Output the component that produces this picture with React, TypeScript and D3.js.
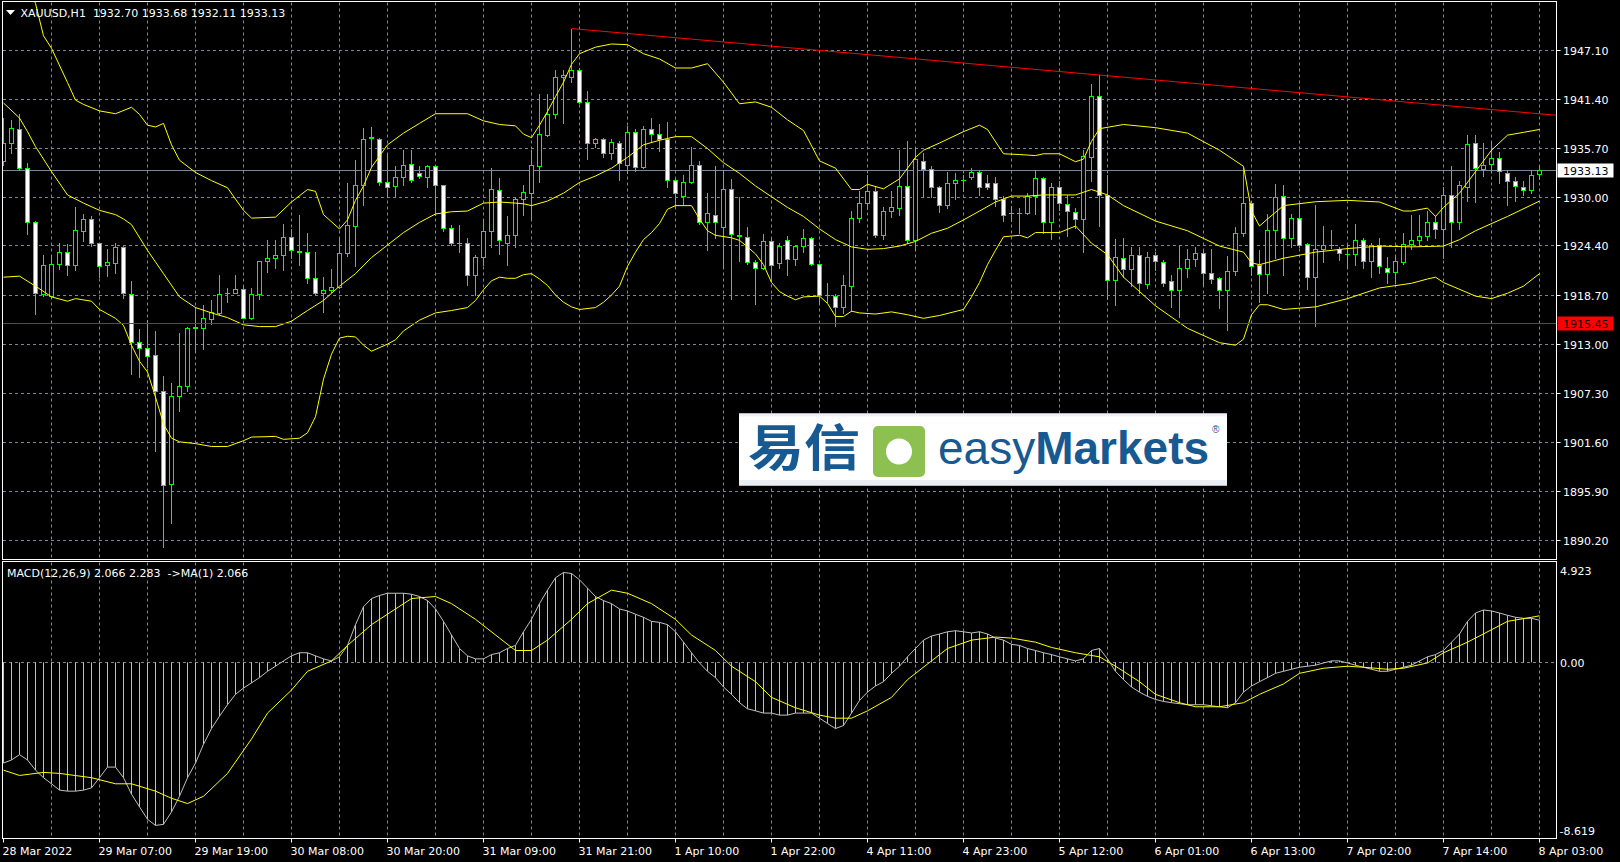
import React from 'react';
import * as d3 from 'd3';

// ---------- DATA ----------
const barOpen = [1934.25,1936.30,1937.96,1933.38,1927.08,1918.76,1918.52,1922.26,1923.63,1922.17,1926.11,1927.48,1924.66,1922.09,1922.38,1924.24,1918.76,1913.24,1912.53,1911.66,1907.51,1896.71,1906.89,1908.05,1914.83,1914.86,1915.86,1916.57,1918.85,1918.93,1919.39,1916.02,1918.76,1922.58,1923.00,1923.34,1925.41,1923.71,1923.63,1920.59,1918.85,1919.18,1919.60,1923.50,1926.66,1931.40,1936.95,1936.80,1931.72,1931.31,1932.30,1933.88,1932.77,1932.35,1933.67,1931.40,1926.40,1924.66,1924.66,1920.92,1923.08,1926.11,1930.90,1924.74,1925.58,1929.74,1930.48,1933.59,1937.21,1939.62,1943.94,1943.98,1944.81,1941.07,1936.30,1936.80,1935.13,1936.30,1933.72,1937.62,1933.56,1937.87,1937.33,1936.71,1932.06,1930.14,1931.72,1933.80,1927.08,1927.98,1926.53,1930.98,1925.57,1925.41,1922.50,1921.76,1924.87,1922.38,1924.99,1922.79,1924.33,1925.29,1922.26,1918.64,1918.52,1917.27,1919.68,1927.58,1929.32,1930.69,1925.58,1928.40,1928.74,1931.31,1924.99,1934.22,1933.30,1931.22,1929.14,1931.64,1932.06,1932.35,1932.88,1931.61,1931.61,1929.85,1928.16,1928.19,1928.16,1930.14,1932.22,1927.16,1931.22,1929.24,1928.32,1927.48,1934.72,1941.78,1930.27,1920.43,1923.00,1921.67,1923.34,1919.89,1923.34,1922.50,1920.30,1919.26,1921.84,1922.79,1923.50,1921.26,1920.59,1919.18,1921.42,1925.82,1929.32,1922.09,1921.13,1926.24,1930.14,1925.29,1927.58,1924.58,1920.72,1924.04,1924.40,1923.95,1923.42,1923.42,1924.99,1922.58,1924.45,1921.84,1921.34,1922.50,1924.58,1924.99,1925.50,1927.16,1926.32,1930.27,1927.16,1931.22,1936.30,1933.30,1933.88,1934.51,1932.85,1931.85,1931.22,1930.90,1932.70];
const barHigh = [1939.21,1938.99,1939.70,1934.01,1927.20,1923.34,1923.34,1924.66,1924.53,1928.90,1928.06,1927.77,1924.74,1924.04,1924.74,1924.30,1920.30,1914.69,1915.73,1914.48,1909.29,1908.47,1914.28,1914.95,1917.27,1917.52,1918.02,1921.01,1919.47,1920.92,1919.55,1919.47,1922.61,1925.08,1924.99,1926.95,1926.32,1927.98,1925.90,1923.63,1920.72,1921.68,1925.29,1931.64,1934.30,1938.04,1938.17,1936.92,1935.13,1933.59,1935.54,1935.54,1933.59,1933.72,1933.80,1931.45,1926.74,1926.82,1925.29,1923.34,1927.48,1933.38,1932.22,1927.77,1930.06,1931.40,1935.54,1942.03,1942.03,1944.81,1944.81,1949.59,1945.01,1942.32,1936.92,1936.92,1936.71,1936.50,1938.29,1937.87,1938.29,1939.20,1938.45,1938.79,1932.10,1932.56,1935.88,1934.22,1930.48,1933.59,1933.17,1932.14,1929.98,1926.53,1922.66,1925.71,1925.16,1924.66,1925.50,1924.45,1926.32,1925.35,1922.30,1920.01,1918.76,1920.92,1928.40,1930.69,1932.56,1931.31,1928.82,1930.69,1935.54,1936.50,1935.88,1935.13,1933.59,1931.30,1932.98,1932.77,1932.64,1933.38,1933.17,1932.64,1932.35,1930.14,1929.03,1928.74,1930.48,1933.17,1932.36,1931.64,1931.93,1930.27,1928.74,1935.46,1943.15,1944.19,1932.56,1925.16,1925.29,1924.24,1924.24,1923.63,1923.63,1922.66,1921.01,1924.45,1924.04,1924.24,1923.84,1924.04,1920.72,1923.21,1926.53,1933.38,1929.56,1923.84,1928.11,1931.51,1931.40,1928.06,1929.24,1924.66,1929.14,1926.66,1926.24,1924.24,1924.45,1926.95,1925.29,1924.66,1925.29,1923.08,1923.34,1925.82,1927.98,1927.98,1928.40,1927.77,1931.22,1933.59,1931.93,1937.21,1937.21,1936.30,1936.38,1935.25,1933.06,1932.35,1931.93,1933.17,1933.68];
const barLow = [1933.75,1935.13,1933.17,1925.71,1916.45,1918.52,1918.35,1921.68,1920.92,1921.55,1924.87,1924.33,1920.72,1920.84,1921.26,1918.35,1909.50,1909.08,1910.34,1900.57,1889.44,1892.18,1905.15,1907.55,1912.00,1912.41,1915.32,1916.36,1917.81,1918.85,1915.94,1915.86,1918.23,1921.34,1921.76,1921.55,1922.92,1922.17,1920.10,1918.76,1916.69,1919.05,1919.47,1923.21,1921.97,1929.14,1933.47,1931.40,1930.06,1930.14,1931.40,1931.72,1932.27,1931.22,1927.98,1926.11,1924.45,1923.63,1919.76,1918.64,1922.17,1924.24,1923.42,1922.17,1924.24,1927.98,1927.48,1931.72,1937.12,1939.20,1938.58,1943.44,1941.00,1934.43,1935.88,1934.64,1934.43,1932.06,1932.77,1933.06,1933.38,1936.38,1935.38,1931.22,1928.82,1929.24,1931.64,1926.95,1923.92,1925.29,1921.76,1918.23,1922.58,1922.26,1917.60,1921.68,1920.30,1921.76,1921.01,1922.09,1923.63,1922.09,1917.68,1917.81,1915.03,1916.57,1916.85,1927.08,1928.61,1925.41,1925.16,1927.66,1927.90,1924.66,1923.92,1929.98,1930.06,1928.32,1928.74,1929.85,1930.69,1932.14,1930.27,1930.98,1929.03,1927.24,1927.24,1925.90,1928.06,1928.06,1925.90,1925.16,1928.48,1925.50,1926.40,1923.63,1931.93,1926.66,1918.23,1917.52,1920.72,1919.68,1918.85,1919.47,1921.55,1919.68,1917.27,1916.15,1920.72,1921.97,1919.68,1920.10,1917.19,1914.61,1921.01,1925.50,1921.01,1917.81,1918.93,1923.00,1921.01,1924.24,1924.24,1919.34,1915.03,1922.50,1924.16,1922.66,1921.76,1922.17,1921.84,1920.72,1921.26,1920.10,1920.10,1922.26,1924.04,1924.33,1924.99,1925.29,1923.00,1924.24,1926.32,1929.56,1929.45,1932.47,1932.88,1931.64,1929.14,1929.56,1930.27,1930.48,1932.11];
const barClose = [1936.27,1938.08,1933.38,1927.08,1918.85,1922.17,1922.29,1923.63,1922.17,1926.24,1927.48,1924.74,1921.97,1922.46,1924.24,1918.93,1913.24,1912.53,1911.53,1907.51,1896.54,1906.92,1908.05,1914.86,1914.89,1915.94,1916.69,1918.76,1918.88,1919.39,1916.02,1918.76,1922.58,1923.00,1923.34,1925.41,1923.84,1923.59,1920.59,1918.93,1919.18,1919.60,1923.50,1926.74,1931.40,1936.80,1936.83,1931.72,1931.22,1932.30,1933.80,1932.06,1932.43,1933.67,1931.40,1926.40,1924.66,1924.64,1920.92,1923.08,1926.11,1930.98,1924.99,1925.58,1929.74,1930.56,1933.72,1937.33,1939.62,1943.98,1944.19,1944.81,1941.07,1936.30,1936.71,1935.13,1936.38,1933.97,1937.62,1933.56,1937.87,1937.33,1936.71,1932.06,1930.48,1931.80,1933.80,1927.08,1928.19,1927.08,1930.98,1925.71,1925.50,1922.50,1921.76,1924.87,1922.09,1924.33,1922.79,1924.33,1925.29,1922.26,1918.64,1918.60,1917.27,1919.76,1927.58,1929.32,1930.69,1925.58,1928.40,1928.82,1931.31,1924.99,1934.43,1933.30,1931.22,1929.14,1931.64,1932.06,1932.03,1932.88,1931.22,1931.22,1929.85,1927.98,1928.12,1928.23,1930.14,1932.22,1927.16,1931.22,1929.32,1928.40,1927.48,1934.84,1941.78,1930.27,1920.43,1923.08,1921.68,1923.34,1920.01,1923.08,1922.58,1920.10,1919.26,1921.84,1922.79,1923.50,1921.26,1920.51,1919.18,1921.42,1925.82,1929.32,1921.97,1921.13,1926.24,1929.98,1925.29,1927.58,1924.45,1920.72,1924.04,1924.45,1924.45,1923.50,1923.45,1924.99,1922.58,1924.45,1921.97,1921.34,1922.58,1924.58,1924.99,1925.50,1927.16,1926.32,1930.27,1927.16,1931.40,1936.21,1933.38,1933.80,1934.51,1933.06,1931.93,1931.31,1930.82,1932.64,1933.13];

// Bollinger bands (bar index, price)
const bbUpperBars = [0,2,4,5,6,8,9,10,12,14,16,17,18,19,20,21,22,24,26,28,30,31,34,36,38,39,40,42,43,44,45,46,48,50,52,54,58,60,62,64,65,66,67,68,69,70,71,72,74,76,78,80,82,84,86,88,90,91,92,94,96,98,99,100,102,104,106,107,108,110,112,113,114,115,117,120,122,123,125,127,129,130,132,134,135,136,137,140,144,148,152,155,156,157,158,160,164,168,172,175,176,178,179,180,182,184,186,188,190,192];
const bbUpperVals = [1961.2,1957.5,1952.5,1948.75,1947.30,1943.32,1941.28,1940.78,1940.03,1939.70,1940.45,1939.62,1938.37,1938.16,1938.58,1936.09,1934.30,1932.88,1931.93,1931.10,1928.48,1927.58,1927.69,1929.45,1930.90,1930.69,1927.98,1926.32,1927.37,1929.64,1931.31,1933.47,1936.09,1937.45,1938.58,1939.70,1939.70,1938.87,1938.45,1938.29,1937.33,1936.92,1938.37,1939.95,1941.69,1943.35,1945.43,1946.67,1947.43,1947.80,1947.72,1946.67,1946.06,1945.01,1945.01,1945.51,1943.35,1942.11,1940.86,1941.07,1940.45,1938.99,1938.37,1937.75,1934.22,1933.38,1930.90,1930.90,1931.51,1930.98,1932.14,1933.38,1934.64,1935.46,1936.30,1937.62,1938.37,1937.87,1935.05,1934.96,1934.84,1935.05,1935.05,1934.13,1934.43,1936.50,1937.96,1938.45,1938.08,1937.45,1935.46,1933.59,1928.40,1926.66,1927.48,1929.03,1929.48,1929.64,1929.45,1928.40,1928.40,1928.74,1927.77,1928.82,1930.48,1932.98,1935.46,1937.21,1937.54,1937.87];
const bbMiddleBars = [0,2,3,4,6,8,10,12,14,15,16,18,20,22,24,26,28,30,32,34,36,38,40,42,44,46,48,50,52,54,56,58,60,62,64,65,66,68,70,72,74,76,78,80,82,84,86,88,90,92,94,96,98,100,102,104,106,108,110,112,114,116,118,120,122,124,126,128,130,132,134,136,138,140,144,148,152,155,156,157,160,164,168,172,176,180,182,184,188,192];
const bbMiddleVals = [1940.95,1939.20,1937.62,1935.88,1932.98,1930.27,1929.32,1928.48,1927.98,1927.48,1926.82,1923.84,1921.13,1918.43,1917.19,1916.57,1916.02,1915.19,1914.98,1914.98,1915.61,1916.85,1918.02,1919.68,1921.13,1923.00,1924.45,1925.90,1927.08,1928.06,1928.32,1928.40,1929.32,1929.45,1929.32,1929.24,1929.03,1929.56,1930.48,1931.72,1932.47,1933.38,1934.64,1936.09,1936.62,1937.04,1937.04,1935.66,1934.01,1932.77,1931.31,1930.06,1928.82,1927.77,1926.32,1925.08,1924.24,1923.95,1924.04,1924.33,1924.87,1925.82,1926.40,1927.37,1928.40,1929.45,1930.14,1930.14,1930.27,1930.27,1930.27,1930.90,1930.27,1929.03,1927.24,1926.11,1924.33,1923.63,1922.38,1922.17,1922.92,1923.63,1924.04,1924.33,1924.24,1924.33,1925.08,1926.11,1927.77,1929.56];
const bbLowerBars = [0,2,4,6,8,9,11,12,14,15,16,17,18,19,20,21,22,24,26,28,30,31,34,35,37,38,39,40,41,42,43,44,45,46,48,49,50,52,54,56,58,59,60,61,62,63,64,65,66,67,68,69,70,71,72,74,75,76,77,78,79,80,81,82,83,84,86,87,88,89,91,92,93,94,95,96,97,98,99,100,102,103,104,105,106,107,109,111,113,115,117,120,121,122,123,124,125,127,128,129,130,132,134,136,138,140,144,148,152,154,155,156,157,158,160,164,168,172,176,178,179,180,184,186,188,190,192];
const bbLowerVals = [1920.72,1920.84,1919.68,1918.43,1917.93,1918.23,1917.93,1916.97,1915.94,1915.11,1912.82,1910.95,1909.71,1906.80,1903.68,1902.02,1901.60,1901.39,1901.06,1901.06,1901.73,1902.15,1902.23,1901.89,1902.02,1902.65,1904.52,1908.88,1911.78,1913.65,1913.86,1913.78,1912.82,1912.12,1912.95,1913.45,1914.48,1915.73,1916.57,1916.85,1917.19,1918.02,1919.26,1920.30,1920.72,1920.59,1920.59,1921.01,1921.13,1920.51,1919.76,1918.64,1917.81,1917.27,1916.97,1917.19,1917.81,1918.64,1919.68,1921.97,1923.63,1925.08,1925.90,1926.95,1928.61,1929.03,1929.03,1927.48,1926.11,1925.58,1925.29,1924.99,1924.24,1923.42,1922.17,1920.10,1919.05,1918.52,1918.10,1918.43,1918.52,1917.68,1916.15,1916.15,1916.77,1916.57,1916.44,1916.69,1916.36,1915.94,1916.27,1916.97,1918.43,1920.10,1922.17,1923.84,1925.41,1925.58,1925.29,1925.90,1925.90,1925.90,1926.66,1924.66,1923.34,1920.72,1917.39,1914.78,1913.11,1912.82,1913.53,1916.36,1917.52,1917.52,1916.97,1917.27,1918.23,1919.47,1920.01,1920.51,1920.72,1920.10,1918.52,1918.23,1918.85,1919.68,1921.13];

// MACD main (one value per bar) and signal line
const macdMain = [-4.94,-4.79,-4.53,-4.79,-5.29,-5.66,-5.96,-6.27,-6.32,-6.32,-6.27,-6.16,-5.66,-5.14,-5.14,-5.66,-6.47,-7.09,-7.70,-8.00,-7.95,-7.34,-6.57,-5.66,-4.94,-4.02,-3.25,-2.64,-2.08,-1.57,-1.26,-1.01,-0.75,-0.44,-0.19,0.07,0.32,0.47,0.47,0.32,0.17,0.07,0.27,0.83,1.85,2.73,3.13,3.28,3.39,3.39,3.39,3.34,3.23,3.03,2.62,2.01,1.34,0.68,0.32,0.17,0.17,0.38,0.47,0.68,0.83,1.50,2.11,2.88,3.54,4.15,4.41,4.36,4.05,3.64,3.23,3.03,2.88,2.62,2.52,2.36,2.21,2.01,1.96,1.85,1.50,0.99,0.47,-0.03,-0.44,-0.75,-1.21,-1.57,-1.98,-2.28,-2.38,-2.49,-2.49,-2.59,-2.59,-2.49,-2.49,-2.49,-2.74,-3.00,-3.25,-3.10,-2.49,-1.87,-1.46,-1.16,-0.95,-0.54,-0.19,0.27,0.68,1.09,1.29,1.39,1.50,1.55,1.50,1.44,1.50,1.39,1.19,1.09,0.88,0.83,0.68,0.58,0.47,0.38,0.27,0.17,0.07,0.17,0.58,0.68,0.17,-0.44,-0.85,-1.21,-1.46,-1.67,-1.82,-1.92,-1.98,-2.03,-2.08,-2.08,-2.08,-2.13,-2.18,-2.23,-1.98,-1.46,-1.16,-0.95,-0.75,-0.54,-0.44,-0.34,-0.24,-0.19,-0.14,-0.03,0.07,0.07,-0.03,-0.14,-0.24,-0.34,-0.44,-0.44,-0.34,-0.24,-0.14,0.07,0.27,0.38,0.58,0.99,1.39,2.01,2.42,2.57,2.52,2.42,2.31,2.21,2.16,2.16,2.066];
const macdSignalBars = [0,2,5,7,11,14,16,19,21,23,25,28,31,33,36,38,41,43,46,49,51,54,56,59,62,64,66,68,71,73,76,78,81,84,86,89,91,94,96,99,102,104,106,108,111,113,116,118,121,124,126,129,131,134,137,139,142,144,147,149,152,155,157,160,162,165,168,170,173,175,178,180,183,186,188,191,192];
const macdSignalVals = [-5.29,-5.55,-5.40,-5.45,-5.66,-5.96,-5.96,-6.32,-6.67,-6.93,-6.57,-5.45,-3.76,-2.49,-1.36,-0.44,0.07,0.83,1.85,2.62,3.13,3.23,2.88,2.11,1.19,0.58,0.58,1.09,2.11,2.88,3.54,3.39,2.88,2.11,1.34,0.58,-0.19,-0.95,-1.72,-2.23,-2.59,-2.74,-2.74,-2.38,-1.72,-0.85,0.07,0.68,1.09,1.24,1.19,0.99,0.73,0.47,0.27,-0.19,-0.95,-1.57,-1.98,-2.18,-2.18,-1.98,-1.57,-1.06,-0.54,-0.29,-0.19,-0.24,-0.34,-0.29,-0.03,0.47,0.99,1.60,2.01,2.21,2.283];

const priceTicks = [1947.10,1941.40,1935.70,1930.00,1924.40,1918.70,1913.00,1907.30,1901.60,1895.90,1890.20];
const macdTicks = [4.923, 0.00, -8.619];
const macdTickLabels = ['4.923', '0.00', '-8.619'];
const timeLabelBars = [0,12,24,36,48,60,72,84,96,108,120,132,144,156,168,180,192];
const timeLabels = ['28 Mar 2022','29 Mar 07:00','29 Mar 19:00','30 Mar 08:00','30 Mar 20:00','31 Mar 09:00','31 Mar 21:00','1 Apr 10:00','1 Apr 22:00','4 Apr 11:00','4 Apr 23:00','5 Apr 12:00','6 Apr 01:00','6 Apr 13:00','7 Apr 02:00','7 Apr 14:00','8 Apr 03:00'];
const supportLevel = 1915.45;
const lastPrice = 1933.13;
const trendBars = [71, 137];
const trendPrices = [1949.59, 1944.19];

// ---------- LAYOUT ----------
const W = 1620, H = 862;
const PL = 2.5, PR = 1556.5, MT = 1.5, MB = 559.5, ST = 561.5, SB = 838.5;
const FONT = '"DejaVu Sans", Verdana, sans-serif';
const GRID = '#778899';

export default function App() {
  const x = d3.scaleLinear().domain([0, 192]).range([3.5, 1539.5]);
  const y = d3.scaleLinear().domain([1890.2, 1947.1]).range([540, 50]);
  const ym = d3.scaleLinear().domain([-8.619, 4.923]).range([838, 562]);
  const px = (v: number) => Math.round(v) + 0.5;

  const lineOf = (bars: number[], vals: number[], sy: any) =>
    d3.line<number>().x((_, k) => x(bars[k])).y((v) => sy(v))(vals) || '';

  const gridBars = d3.range(6, 193, 6);

  // trendline extended to right edge
  const slope = (trendPrices[1] - trendPrices[0]) / (trendBars[1] - trendBars[0]);
  const endBar = x.invert(PR);
  const endPrice = trendPrices[0] + slope * (endBar - trendBars[0]);

  const candles = barOpen.map((o, i) => {
    const c = barClose[i];
    const h = Math.max(barHigh[i], o, c);
    const l = Math.min(barLow[i], o, c);
    const cx = x(i);
    const top = Math.round(y(Math.max(o, c)));
    const bot = Math.round(y(Math.min(o, c)));
    const bull = c >= o;
    return (
      <g key={i}>
        <line x1={cx} x2={cx} y1={Math.round(y(h))} y2={Math.round(y(l)) + 1} stroke="#00ff00" strokeWidth={1} />
        {bot - top >= 1 ? (
          <rect x={cx - 2} y={top + 0.5} width={4} height={bot - top} fill={bull ? '#000' : '#fff'} stroke="#00ff00" strokeWidth={1} />
        ) : (
          <line x1={cx - 2.5} x2={cx + 2.5} y1={top + 0.5} y2={top + 0.5} stroke="#00ff00" strokeWidth={1} />
        )}
      </g>
    );
  });

  const macdTopLine = d3.line<number>().x((_, i) => x(i)).y((v) => ym(v))(macdMain) || '';

  return (
    <svg width={W} height={H} style={{ position: 'absolute', left: 0, top: 0, display: 'block' }} fontFamily={FONT}>
      <defs>
        <clipPath id="mainClip"><rect x={3} y={2} width={PR - 3} height={MB - 2} /></clipPath>
        <clipPath id="macdClip"><rect x={3} y={ST + 0.5} width={PR - 3} height={SB - ST - 1} /></clipPath>
      </defs>
      <rect x={0} y={0} width={W} height={H} fill="#000" />

      {/* grid */}
      <g stroke={GRID} strokeWidth={1} strokeDasharray="3,3" fill="none">
        {gridBars.map((b) => (
          <g key={'v' + b}>
            <line x1={x(b)} x2={x(b)} y1={MT + 1} y2={MB - 1} />
            <line x1={x(b)} x2={x(b)} y1={ST + 1} y2={SB - 1} />
          </g>
        ))}
        {priceTicks.map((t) => (
          <line key={'h' + t} x1={3} x2={PR} y1={px(y(t))} y2={px(y(t))} />
        ))}
        <line x1={3} x2={PR} y1={px(ym(0))} y2={px(ym(0))} />
      </g>

      {/* main chart */}
      <g clipPath="url(#mainClip)">
        <line x1={3} x2={PR} y1={px(y(lastPrice))} y2={px(y(lastPrice))} stroke={GRID} strokeWidth={1} />
        {candles}
        <g fill="none" stroke="#ffff00" strokeWidth={1}>
          <path d={lineOf(bbUpperBars, bbUpperVals, y)} />
          <path d={lineOf(bbMiddleBars, bbMiddleVals, y)} />
          <path d={lineOf(bbLowerBars, bbLowerVals, y)} />
        </g>
        <line x1={3} x2={PR} y1={px(y(supportLevel))} y2={px(y(supportLevel))} stroke="#ff0000" strokeWidth={1} />
        <line x1={x(trendBars[0])} y1={y(trendPrices[0])} x2={PR} y2={y(endPrice)} stroke="#ff0000" strokeWidth={1} />
      </g>

      {/* MACD */}
      <g clipPath="url(#macdClip)">
        <g stroke="#c0c0c0" strokeWidth={1}>
          {macdMain.map((v, i) => (
            <line key={i} x1={x(i)} x2={x(i)} y1={ym(0)} y2={ym(v)} />
          ))}
        </g>
        <path d={macdTopLine} fill="none" stroke="#c0c0c0" strokeWidth={1} />
        <path d={lineOf(macdSignalBars, macdSignalVals, ym)} fill="none" stroke="#ffff00" strokeWidth={1} />
      </g>

      {/* frames */}
      <g fill="none" stroke="#fff" strokeWidth={1}>
        <rect x={PL} y={MT} width={PR - PL} height={MB - MT} />
        <rect x={PL} y={ST} width={PR - PL} height={SB - ST} />
      </g>

      {/* price axis */}
      <g fill="#fff" fontSize={11}>
        {priceTicks.map((t) => (
          <g key={'pt' + t}>
            <line x1={PR} x2={PR + 4} y1={px(y(t))} y2={px(y(t))} stroke="#fff" />
            <text x={1563} y={px(y(t)) + 4}>{t.toFixed(2)}</text>
          </g>
        ))}
        {macdTicks.map((t, k) => (
          <text key={'mt' + k} x={k === 2 ? 1559.5 : 1560} y={k === 0 ? 575 : k === 1 ? 666.5 : 835}>{macdTickLabels[k]}</text>
        ))}
      </g>

      {/* price tags */}
      <rect x={1557.5} y={px(y(lastPrice)) - 7} width={56} height={14} fill="#fff" />
      <text x={1563} y={px(y(lastPrice)) + 4} fontSize={11} fill="#000">{lastPrice.toFixed(2)}</text>
      <rect x={1557.5} y={px(y(supportLevel)) - 7} width={56} height={14} fill="#ff0000" />
      <text x={1563} y={px(y(supportLevel)) + 4} fontSize={11} fill="#000">{supportLevel.toFixed(2)}</text>

      {/* time axis */}
      <g fill="#fff" fontSize={11}>
        {timeLabelBars.map((b, k) => (
          <g key={'tl' + b}>
            <line x1={x(b)} x2={x(b)} y1={SB} y2={SB + 4} stroke="#fff" />
            <text x={x(b) - 1} y={854.5}>{timeLabels[k]}</text>
          </g>
        ))}
      </g>

      {/* headers */}
      <path d="M6,10 L15,10 L10.5,15 Z" fill="#fff" />
      <text x={20.5} y={16.5} fontSize={11} fill="#fff" style={{ whiteSpace: 'pre' }}>{'XAUUSD,H1  1932.70 1933.68 1932.11 1933.13'}</text>
      <text x={7} y={577} fontSize={11} fill="#fff" style={{ whiteSpace: 'pre' }}>{'MACD(12,26,9) 2.066 2.283  ->MA(1) 2.066'}</text>

      {/* logo */}
      <g>
        <rect x={739} y={413.5} width={488} height={72} fill="#ffffff" />
        <rect x={739} y={413.5} width={488} height={3} fill="#eef2f7" />
        <rect x={739} y={480} width={488} height={5.5} fill="#e9eef5" />
        <text x={748} y={466} fontSize={50} fontWeight={700} fill="#175a92" fontFamily='"Noto Sans CJK SC", sans-serif' textLength={112} lengthAdjust="spacingAndGlyphs">易信</text>
        <rect x={873} y={426} width={52} height={51} rx={5} fill="#8cc152" />
        <circle cx={899} cy={451.5} r={13} fill="#fff" />
        <text x={938} y={463.5} fontSize={46} fill="#175a92" fontFamily='"Liberation Sans", Arial, sans-serif'>
          <tspan fontWeight={400}>easy</tspan><tspan fontWeight={700}>Markets</tspan>
        </text>
        <text x={1212} y={433} fontSize={10} fill="#175a92" fontFamily='"Liberation Sans", Arial, sans-serif'>®</text>
      </g>
    </svg>
  );
}
